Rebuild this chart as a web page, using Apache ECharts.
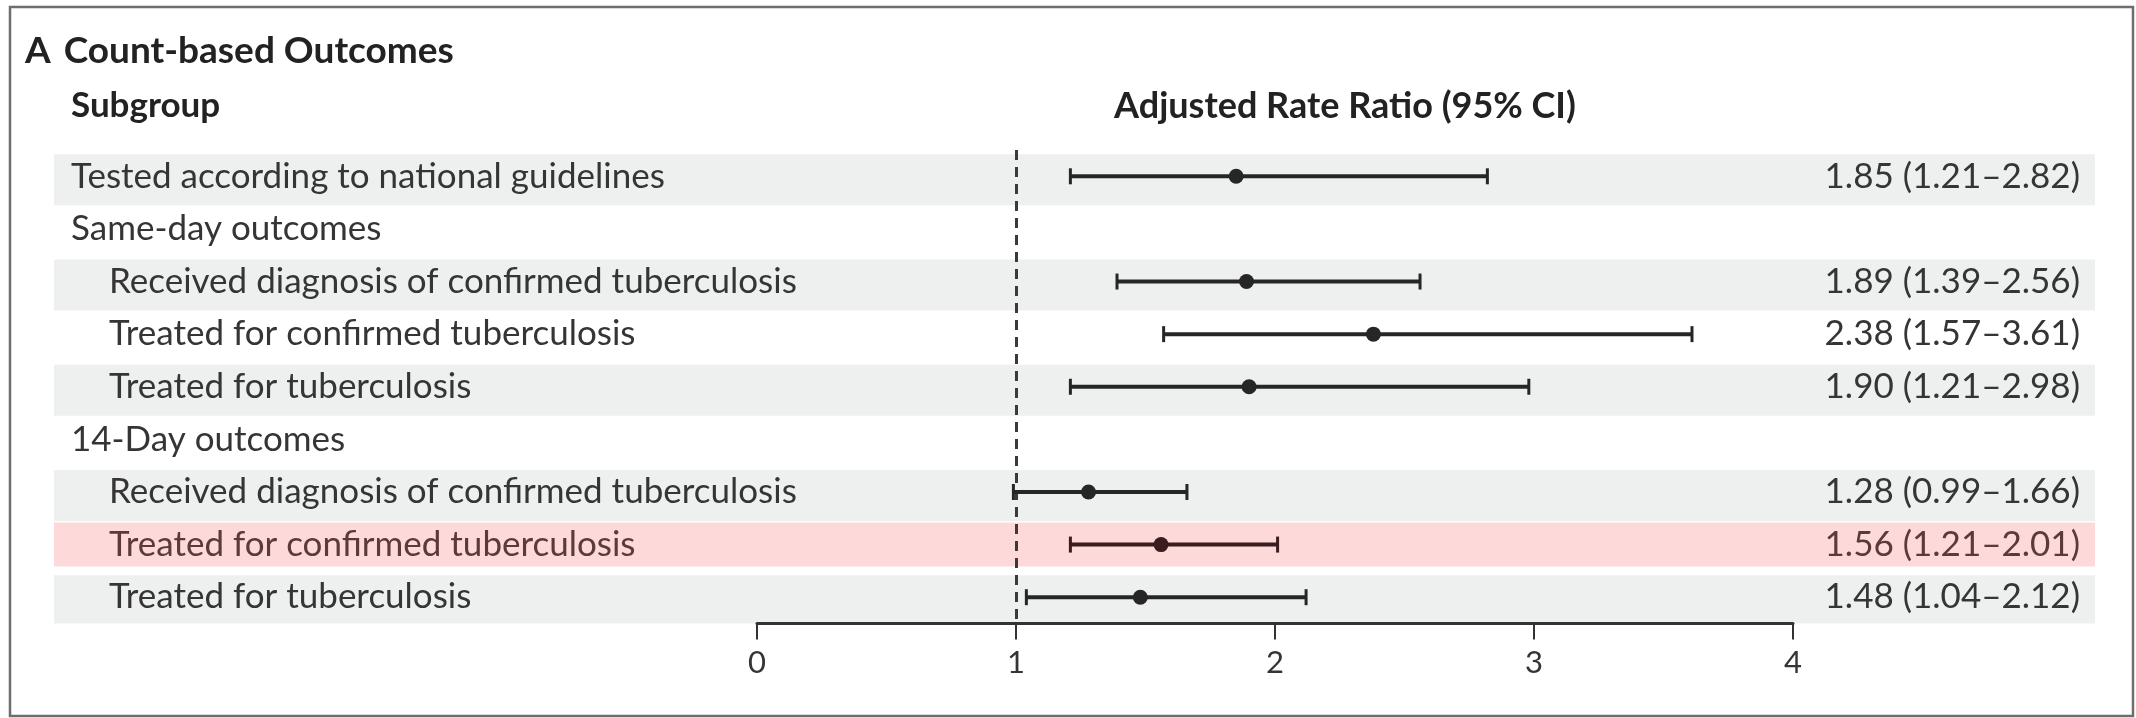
<!DOCTYPE html>
<html>
<head>
<meta charset="utf-8">
<script src="https://cdn.jsdelivr.net/npm/echarts@6/dist/echarts.min.js"></script>
<style>
  html, body { margin: 0; padding: 0; background: #fff; }
  #chart { width: 2136px; height: 718px; }
</style>
</head>
<body>
<div id="chart"></div>
<script>
// rows, top to bottom
const rowLabels = [
  'Tested according to national guidelines',
  'Same-day outcomes',
  'Received diagnosis of confirmed tuberculosis',
  'Treated for confirmed tuberculosis',
  'Treated for tuberculosis',
  '14-Day outcomes',
  'Received diagnosis of confirmed tuberculosis',
  'Treated for confirmed tuberculosis',
  'Treated for tuberculosis'
];
const rowIndent = [0, 0, 1, 1, 1, 0, 1, 1, 1];
const estimate = [1.85, null, 1.89, 2.38, 1.90, null, 1.28, 1.56, 1.48];
const lowerCI = [1.21, null, 1.39, 1.57, 1.21, null, 0.99, 1.21, 1.04];
const upperCI = [2.82, null, 2.56, 3.61, 2.98, null, 1.66, 2.01, 2.12];
const shadedRows = [1, 0, 1, 0, 1, 0, 1, 0, 1];
const highlightRow = 7;
const xTicks = [0, 1, 2, 3, 4];

const FONT = 'Lato';
const TEXT = '#353535';
const HL_TEXT = '#5a3a3d';
const BAR = '#262626';
const HL_BAR = '#3b1d1f';

const rowIds = rowLabels.map((_, i) => String(i));
const ciLabels = estimate.map((v, i) =>
  v == null ? '' : v.toFixed(2) + ' (' + lowerCI[i].toFixed(2) + '\u2013' + upperCI[i].toFixed(2) + ')'
);
const ciData = [];
estimate.forEach((v, i) => {
  if (v != null) ciData.push([i, v, lowerCI[i], upperCI[i]]);
});

const chart = echarts.init(document.getElementById('chart'), null, { renderer: 'canvas' });

const gridTop = 150;
const gridHeight = 473.5;

chart.setOption({
  backgroundColor: '#fff',
  animation: false,
  title: [
    {
      text: '{a|A}{b|Count-based Outcomes}',
      left: 25,
      top: 33,
      padding: 0,
      textStyle: {
        rich: {
          a: { fontFamily: FONT, fontSize: 37, fontWeight: 'bold', color: '#222', padding: [0, 13, 0, 0] },
          b: { fontFamily: FONT, fontSize: 37, fontWeight: 'bold', color: '#222' }
        }
      }
    },
    {
      text: 'Subgroup',
      left: 71,
      top: 88,
      padding: 0,
      textStyle: { fontFamily: FONT, fontSize: 35, fontWeight: 'bold', color: '#222' }
    },
    {
      text: 'Adjusted Rate Ratio (95% CI)',
      left: 1345,
      textAlign: 'center',
      top: 88,
      padding: 0,
      textStyle: { fontFamily: FONT, fontSize: 36, fontWeight: 'bold', color: '#222' }
    }
  ],
  graphic: [
    {
      type: 'rect',
      shape: { x: 10, y: 7, width: 2123, height: 709 },
      style: { fill: 'none', stroke: '#6e6e6e', lineWidth: 2.5 },
      silent: true
    }
  ],
  grid: [
    { left: 757, right: 343, top: gridTop, height: gridHeight },
    { left: 54, right: 41, top: gridTop, height: gridHeight }
  ],
  xAxis: [
    {
      gridIndex: 0,
      type: 'value',
      min: xTicks[0],
      max: xTicks[xTicks.length - 1],
      interval: 1,
      z: 10,
      axisLine: { show: true, lineStyle: { color: '#333', width: 3 } },
      axisTick: { show: true, length: 16, lineStyle: { color: '#333', width: 2 } },
      splitLine: { show: false },
      axisLabel: { fontFamily: FONT, fontSize: 31, color: TEXT, margin: 24 }
    },
    { gridIndex: 1, type: 'value', min: 0, max: 1, show: false }
  ],
  yAxis: [
    {
      gridIndex: 0,
      type: 'category',
      data: rowIds,
      inverse: true,
      z: 10,
      axisLine: { show: false },
      axisTick: { show: false },
      splitLine: { show: false },
      axisLabel: {
        align: 'left',
        margin: 686,
        formatter: (v) => {
          const i = +v;
          const style = (i === highlightRow ? 'h' : 'n') + rowIndent[i];
          return '{' + style + '|' + rowLabels[i] + '}';
        },
        rich: {
          n0: { fontFamily: FONT, fontSize: 35, color: TEXT },
          n1: { fontFamily: FONT, fontSize: 35, color: TEXT, padding: [0, 0, 0, 38] },
          h1: { fontFamily: FONT, fontSize: 35, color: HL_TEXT, padding: [0, 0, 0, 38] }
        }
      }
    },
    {
      gridIndex: 0,
      type: 'category',
      data: rowIds,
      inverse: true,
      position: 'right',
      z: 10,
      axisLine: { show: false },
      axisTick: { show: false },
      splitLine: { show: false },
      axisLabel: {
        align: 'right',
        margin: 287,
        fontFamily: FONT,
        fontSize: 35,
        color: TEXT,
        formatter: (v) => {
          const i = +v;
          return i === highlightRow ? '{h|' + ciLabels[i] + '}' : ciLabels[i];
        },
        rich: { h: { fontFamily: FONT, fontSize: 35, color: HL_TEXT } }
      }
    },
    {
      gridIndex: 1,
      type: 'category',
      data: rowIds,
      inverse: true,
      show: false
    }
  ],
  series: [
    {
      // alternating grey row bands
      type: 'bar',
      xAxisIndex: 1,
      yAxisIndex: 2,
      z: 1,
      silent: true,
      barWidth: 51,
      itemStyle: { color: '#eef0f0' },
      data: shadedRows.map((s, i) => (s && i !== highlightRow ? 1 : '-'))
    },
    {
      // highlighted row
      type: 'bar',
      xAxisIndex: 1,
      yAxisIndex: 2,
      z: 1,
      silent: true,
      barWidth: 44,
      barGap: '-100%',
      itemStyle: { color: '#fdd9d9' },
      data: rowIds.map((_, i) => (i === highlightRow ? 1 : '-'))
    },
    {
      type: 'custom',
      xAxisIndex: 0,
      yAxisIndex: 0,
      z: 5,
      encode: { x: [1, 2, 3], y: 0 },
      data: ciData,
      renderItem: (params, api) => {
        const row = api.value(0);
        const lo = api.coord([api.value(2), row]);
        const hi = api.coord([api.value(3), row]);
        const pt = api.coord([api.value(1), row]);
        const color = row === highlightRow ? HL_BAR : BAR;
        return {
          type: 'group',
          children: [
            { type: 'line', shape: { x1: lo[0], y1: lo[1], x2: hi[0], y2: hi[1] }, style: { stroke: color, lineWidth: 4 } },
            { type: 'line', shape: { x1: lo[0], y1: lo[1] - 8, x2: lo[0], y2: lo[1] + 8 }, style: { stroke: color, lineWidth: 3 } },
            { type: 'line', shape: { x1: hi[0], y1: hi[1] - 8, x2: hi[0], y2: hi[1] + 8 }, style: { stroke: color, lineWidth: 3 } },
            { type: 'circle', shape: { cx: pt[0], cy: pt[1], r: 7.5 }, style: { fill: color } }
          ]
        };
      },
      markLine: {
        silent: true,
        symbol: 'none',
        label: { show: false },
        lineStyle: { color: '#3a3a3a', width: 3, type: [10, 7] },
        data: [{ xAxis: 1 }]
      }
    }
  ]
});
</script>
</body>
</html>
